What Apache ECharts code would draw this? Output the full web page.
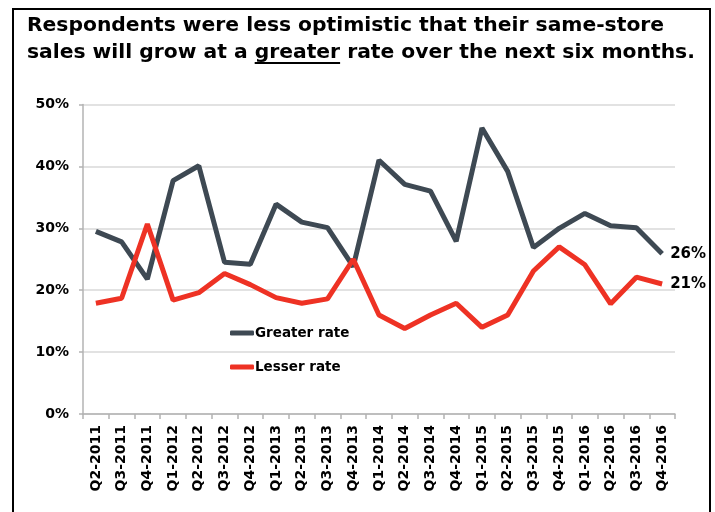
<!DOCTYPE html>
<html>
<head>
<meta charset="utf-8">
<script src="https://cdn.jsdelivr.net/npm/echarts@6/dist/echarts.min.js"></script>
<style>
html,body{margin:0;padding:0;background:#fff;}
#chart{width:715px;height:512px;}
</style>
</head>
<body>
<div id="chart"></div>
<script>
const categories = ['Q2-2011','Q3-2011','Q4-2011','Q1-2012','Q2-2012','Q3-2012','Q4-2012','Q1-2013','Q2-2013','Q3-2013','Q4-2013','Q1-2014','Q2-2014','Q3-2014','Q4-2014','Q1-2015','Q2-2015','Q3-2015','Q4-2015','Q1-2016','Q2-2016','Q3-2016','Q4-2016'];
const greaterRate = [29.5, 27.8, 21.8, 37.7, 40.1, 24.5, 24.2, 33.9, 31.0, 30.1, 23.8, 41.0, 37.1, 36.0, 27.9, 46.2, 39.2, 26.9, 30.0, 32.4, 30.4, 30.1, 25.9];
const lesserRate = [17.9, 18.7, 30.7, 18.4, 19.6, 22.7, 20.9, 18.8, 17.9, 18.6, 25.0, 16.0, 13.8, 16.0, 17.9, 14.0, 16.0, 23.1, 27.0, 24.1, 17.8, 22.1, 21.0];
const yTicks = [0, 10, 20, 30, 40, 50];
const titleLine1 = 'Respondents were less optimistic that their same-store';
const titleLine2a = 'sales will grow at a ';
const titleLine2b = 'greater';
const titleLine2c = ' rate over the next six months.';
</script>
<script>
const FONT = '"DejaVu Sans", Verdana, sans-serif';
const TITLE_FONT = '"DejaVu Sans", Verdana, sans-serif';
const titleSize = 20.3;
const chart = echarts.init(document.getElementById('chart'));

// measure text for underline placement
const cv = document.createElement('canvas').getContext('2d');
cv.font = 'bold ' + titleSize + 'px ' + TITLE_FONT;
const titleLeft = 27, titleTop = 12, lineH = 27;
const ulX = titleLeft + cv.measureText(titleLine2a).width;
const ulW = cv.measureText(titleLine2b).width;

const option = {
  animation: false,
  backgroundColor: '#fff',
  title: {
    text: titleLine1 + '\n' + titleLine2a + titleLine2b + titleLine2c,
    left: titleLeft, top: titleTop, padding: 0,
    textStyle: {fontFamily: TITLE_FONT, fontWeight: 'bold', fontSize: titleSize, color: '#000', lineHeight: lineH}
  },
  graphic: [
    {type: 'rect', shape: {x: 13, y: 9, width: 697, height: 520}, style: {fill: 'none', stroke: '#000', lineWidth: 2}, silent: true},
    {type: 'rect', shape: {x: ulX, y: titleTop + lineH + 23, width: ulW, height: 2}, style: {fill: '#000'}, silent: true}
  ],
  legend: {
    orient: 'vertical', left: 225, top: 321, itemGap: 20,
    itemWidth: 24, itemHeight: 5, icon: 'roundRect',
    textStyle: {fontFamily: FONT, fontWeight: 'bold', fontSize: 13.5, color: '#000', padding: [0,0,0,-4]},
    data: ['Greater rate', 'Lesser rate']
  },
  grid: {left: 83, right: 40, top: 104.5, bottom: 98, containLabel: false},
  xAxis: {
    type: 'category', data: categories, boundaryGap: true,
    axisLine: {lineStyle: {color: '#b3b3b3', width: 1.5}},
    axisTick: {show: true, length: 5, lineStyle: {color: '#b3b3b3', width: 1.5}},
    axisLabel: {rotate: 90, interval: 0, margin: 11, fontFamily: FONT, fontWeight: 'bold', fontSize: 14, color: '#000'}
  },
  yAxis: {
    type: 'value', min: 0, max: 50, interval: 10,
    axisLine: {show: true, lineStyle: {color: '#b3b3b3', width: 1.5}},
    axisTick: {show: true, length: 4, lineStyle: {color: '#b3b3b3', width: 1.5}},
    splitLine: {lineStyle: {color: '#d9d9d9', width: 1.5}},
    axisLabel: {margin: 14, fontFamily: FONT, fontWeight: 'bold', fontSize: 14, color: '#000',
      formatter: v => yTicks.includes(v) ? v + '%' : ''}
  },
  series: [
    {name: 'Greater rate', type: 'line', data: greaterRate, symbol: 'none', color: '#3e4953',
     lineStyle: {width: 5, color: '#3e4953'},
     endLabel: {show: true, distance: 8, formatter: p => Math.round(p.value) + '%', fontFamily: FONT, fontWeight: 'bold', fontSize: 15, color: '#000'}},
    {name: 'Lesser rate', type: 'line', data: lesserRate, symbol: 'none', color: '#ee3224',
     lineStyle: {width: 5, color: '#ee3224'},
     endLabel: {show: true, distance: 8, formatter: p => Math.round(p.value) + '%', fontFamily: FONT, fontWeight: 'bold', fontSize: 15, color: '#000'}}
  ]
};
chart.setOption(option);
</script>
</body>
</html>
